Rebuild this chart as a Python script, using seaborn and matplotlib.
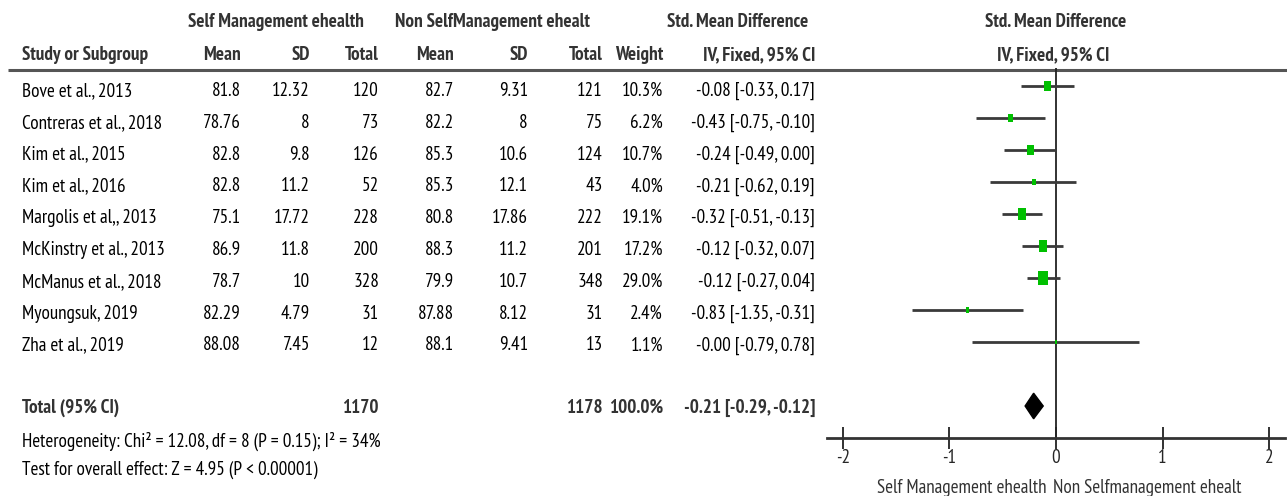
import numpy as np
import pandas as pd
import matplotlib
matplotlib.use("Agg")
import matplotlib.pyplot as plt
import seaborn as sns
from matplotlib import font_manager

# study data
studies = ["Bove et al., 2013", "Contreras et al., 2018", "Kim et al., 2015", "Kim et al., 2016",
           "Margolis et al,, 2013", "McKinstry et al., 2013", "McManus et al., 2018",
           "Myoungsuk, 2019", "Zha et al., 2019"]
exp_mean = ["81.8", "78.76", "82.8", "82.8", "75.1", "86.9", "78.7", "82.29", "88.08"]
exp_sd = ["12.32", "8", "9.8", "11.2", "17.72", "11.8", "10", "4.79", "7.45"]
exp_total = [120, 73, 126, 52, 228, 200, 328, 31, 12]
ctl_mean = ["82.7", "82.2", "85.3", "85.3", "80.8", "88.3", "79.9", "87.88", "88.1"]
ctl_sd = ["9.31", "8", "10.6", "12.1", "17.86", "11.2", "10.7", "8.12", "9.41"]
ctl_total = [121, 75, 124, 43, 222, 201, 348, 31, 13]
weight = [10.3, 6.2, 10.7, 4.0, 19.1, 17.2, 29.0, 2.4, 1.1]
smd = [-0.08, -0.43, -0.24, -0.21, -0.32, -0.12, -0.12, -0.83, -0.00]
ci_low = [-0.33, -0.75, -0.49, -0.62, -0.51, -0.32, -0.27, -1.35, -0.79]
ci_high = [0.17, -0.10, 0.00, 0.19, -0.13, 0.07, 0.04, -0.31, 0.78]

total_exp = 1170
total_ctl = 1178
total_smd = -0.21
total_low = -0.29
total_high = -0.12
heterogeneity = "Heterogeneity: Chi² = 12.08, df = 8 (P = 0.15); I² = 34%"
overall = "Test for overall effect: Z = 4.95 (P < 0.00001)"
xticks = [-2, -1, 0, 1, 2]
favours = ["Self Management ehealth", "Non Selfmanagement ehealt"]

sns.set_theme(style="white")

# pick a narrow sans with a static bold face (reference uses Arial Narrow)
faces = {}
for f in font_manager.fontManager.ttflist:
    if "[" in f.fname or "italic" in f.fname.lower() or "oblique" in f.fname.lower():
        continue
    faces.setdefault(f.name, set()).add(int(f.weight) if str(f.weight).isdigit() else 400)
fam = "DejaVu Sans"
for cand in ["Liberation Sans Narrow", "Arial Narrow", "PT Sans Narrow", "Roboto Condensed",
             "Open Sans Condensed", "Asap Condensed", "Barlow Semi Condensed"]:
    if cand in faces and 400 in faces[cand] and 700 in faces[cand]:
        fam = cand
        break
plt.rcParams["font.family"] = [fam, "DejaVu Sans"]
stretch = "condensed" if fam == "DejaVu Sans" else "normal"

W, H = 1287, 496
fig = plt.figure(figsize=(W / 100, H / 100), dpi=100)

# table axes in pixel coordinates
tab = fig.add_axes([0, 0, 1, 1])
tab.set_xlim(0, W)
tab.set_ylim(H, 0)
tab.axis("off")

# size the font so the longest study name is as wide as in the reference
probe = tab.text(0, 0, "Contreras et al., 2018", fontsize=12, fontstretch=stretch)
rend = fig.canvas.get_renderer()
pw = probe.get_window_extent(renderer=rend).width
probe.remove()
fs = min(12 * 140 / pw, 14)
hdr = "#333333"

def put(x, y, s, ha="right", bold=False, color="black"):
    tab.text(x, y, s, ha=ha, va="center", fontsize=fs, fontstretch=stretch,
             fontweight="bold" if bold else "normal", color=color)

def row_y(i):
    return 91 + 31.8 * i

put(276, 22, "Self Management ehealth", "center", True, hdr)
put(492, 22, "Non SelfManagement ehealt", "center", True, hdr)
put(808, 22, "Std. Mean Difference", "right", True, hdr)
put(1056, 22, "Std. Mean Difference", "center", True, hdr)

header_cols = [("Study or Subgroup", 22, "left"), ("Mean", 241, "right"), ("SD", 310, "right"),
               ("Total", 379, "right"), ("Mean", 454, "right"), ("SD", 528, "right"),
               ("Total", 603, "right"), ("Weight", 663, "right"), ("IV, Fixed, 95% CI", 815, "right")]
for label, x, ha in header_cols:
    put(x, 55, label, ha, True, hdr)
put(1053, 55, "IV, Fixed, 95% CI", "center", True, hdr)

tab.plot([8, W], [70, 70], color="#555555", lw=2.2, solid_capstyle="butt")

for i, name in enumerate(studies):
    y = row_y(i)
    vals = [(name, 22, "left"), (exp_mean[i], 241, "right"), (exp_sd[i], 310, "right"),
            (str(exp_total[i]), 379, "right"), (ctl_mean[i], 454, "right"), (ctl_sd[i], 528, "right"),
            (str(ctl_total[i]), 603, "right"), (f"{weight[i]:.1f}%", 663, "right"),
            (f"{smd[i]:.2f} [{ci_low[i]:.2f}, {ci_high[i]:.2f}]", 815, "right")]
    for txt, x, ha in vals:
        put(x, y, txt, ha)

ty = 408
tot = [("Total (95% CI)", 22, "left"), (str(total_exp), 379, "right"), (str(total_ctl), 603, "right"),
       (f"{sum(weight):.1f}%", 663, "right"),
       (f"{total_smd:.2f} [{total_low:.2f}, {total_high:.2f}]", 815, "right")]
for txt, x, ha in tot:
    put(x, ty, txt, ha, True, hdr)
put(22, 441, heterogeneity, "left")
put(22, 470, overall, "left")

# forest axes
x0, x1, y0, y1 = 827, 1285, 68, 438
fax = fig.add_axes([x0 / W, 1 - y1 / H, (x1 - x0) / W, (y1 - y0) / H])
fax.set_facecolor("none")
fax.set_xlim(-2.15, 2.15)
fax.set_ylim(11.0, -0.5625)

df = pd.DataFrame({"study": studies, "smd": smd, "low": ci_low, "high": ci_high,
                   "weight": weight, "row": np.arange(len(studies))})
fax.axvline(0, color="#222222", lw=1.3, zorder=1)
fax.hlines(df["row"], df["low"], df["high"], color="#3a3a3a", lw=2.0, zorder=2)
box = [(-1, -1.5), (1, -1.5), (1, 1.5), (-1, 1.5), (-1, -1.5)]
sns.scatterplot(data=df, x="smd", y="row", size="weight", sizes=(10, 110), marker=box,
                color="#00c000", edgecolor="none", legend=False, ax=fax, zorder=3)

tr = len(studies) + 1
dh = 0.4
fax.fill([total_low, total_smd, total_high, total_smd], [tr, tr - dh, tr, tr + dh],
         color="black", zorder=3)

for s in ["top", "right", "left"]:
    fax.spines[s].set_visible(False)
fax.spines["bottom"].set_color("#333333")
fax.spines["bottom"].set_linewidth(2.0)
fax.set_xticks(xticks)
fax.set_xticklabels([str(t) for t in xticks], fontsize=fs, fontstretch=stretch)
fax.tick_params(axis="x", direction="inout", length=16, width=1.3, color="#222222", pad=0,
                bottom=True)
fax.set_yticks([])
fax.set_xlabel("")
fax.set_ylabel("")

put(1047, 488, favours[0], "right", False, hdr)
put(1053, 488, favours[1], "left", False, hdr)

fig.savefig("out.png", dpi=100)
